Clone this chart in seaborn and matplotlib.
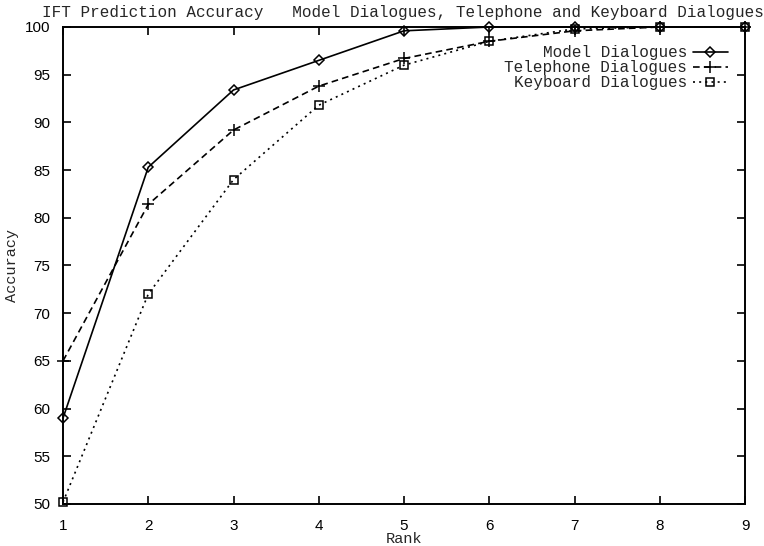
import matplotlib
matplotlib.use("Agg")
import matplotlib.pyplot as plt
import seaborn as sns
import pandas as pd

ranks = [1, 2, 3, 4, 5, 6, 7, 8, 9]
model_acc = [59.0, 85.3, 93.4, 96.5, 99.6, 100.0, 100.0, 100.0, 100.0]
telephone_acc = [65.0, 81.4, 89.2, 93.8, 96.7, 98.5, 99.6, 100.0, 100.0]
keyboard_acc = [50.2, 72.0, 84.0, 91.8, 96.0, 98.5, 99.8, 100.0, 100.0]
series_names = ["Model Dialogues", "Telephone Dialogues", "Keyboard Dialogues"]
x_ticks = [1, 2, 3, 4, 5, 6, 7, 8, 9]
y_ticks = [50, 55, 60, 65, 70, 75, 80, 85, 90, 95, 100]

df = pd.concat([
    pd.DataFrame({"Rank": ranks, "Accuracy": vals, "Series": name})
    for name, vals in zip(series_names, [model_acc, telephone_acc, keyboard_acc])
])

sns.set_style("ticks")
mono = ["Liberation Mono", "DejaVu Sans Mono"]
plt.rcParams["font.family"] = mono

fig = plt.figure(figsize=(7.64, 5.46), dpi=100)
ax = fig.add_axes([63/764, 42/546, 682/764, 477/546])

markers = {"Model Dialogues": "D", "Telephone Dialogues": "P", "Keyboard Dialogues": "s"}
dashes = {"Model Dialogues": "", "Telephone Dialogues": (4, 2.5), "Keyboard Dialogues": (1.2, 2.5)}

sns.lineplot(data=df, x="Rank", y="Accuracy", style="Series", style_order=series_names,
             markers=markers, dashes=dashes, color="k", lw=1.2, ms=6,
             mec="k", mew=1.1, mfc="none", ax=ax, clip_on=False)


def fix_marker(ln):
    ln.set_mfc("none")
    ln.set_mec("k")
    m = ln.get_marker()
    if m == "D":
        ln.set_markersize(5)
    elif m == "P":
        ln.set_marker("+")
        ln.set_markersize(8)
    elif m == "s":
        ln.set_markersize(6)


for ln in ax.lines:
    fix_marker(ln)
    ln.set_clip_on(False)

leg = ax.get_legend()
handles = leg.legend_handles
labels = [t.get_text() for t in leg.get_texts()]
leg.remove()
for h in handles:
    h.set_color("k")
    h.set_linewidth(1.2)
    fix_marker(h)
ax.legend(handles, labels, loc="upper right", bbox_to_anchor=(0.975, 0.962),
          markerfirst=False, frameon=False, handlelength=2.2,
          handletextpad=0.35, labelspacing=0.0, borderpad=0, borderaxespad=0,
          prop={"family": mono, "size": 11.5})

ax.set_xlim(1, 9)
ax.set_ylim(50, 100)
ax.set_xticks(x_ticks)
ax.set_yticks(y_ticks)
ax.tick_params(direction="in", length=6, width=1.2, top=True, right=True,
               labelsize=11, pad=9, colors="k")
ax.tick_params(axis="x", pad=11)
for lab in ax.get_xticklabels() + ax.get_yticklabels():
    lab.set_fontfamily(["Liberation Sans", "DejaVu Sans"])
for sp in ax.spines.values():
    sp.set_visible(True)
    sp.set_linewidth(1.4)
    sp.set_color("k")

ax.set_xlabel("Rank", fontsize=11, labelpad=-1)
ax.set_ylabel("Accuracy", fontsize=11, labelpad=4)

fig.text(42/764, 1 - 12/546,
         "IFT Prediction Accuracy   Model Dialogues, Telephone and Keyboard Dialogues",
         fontsize=11.5, va="center", ha="left", family=mono)

fig.savefig("out.png", dpi=100)
